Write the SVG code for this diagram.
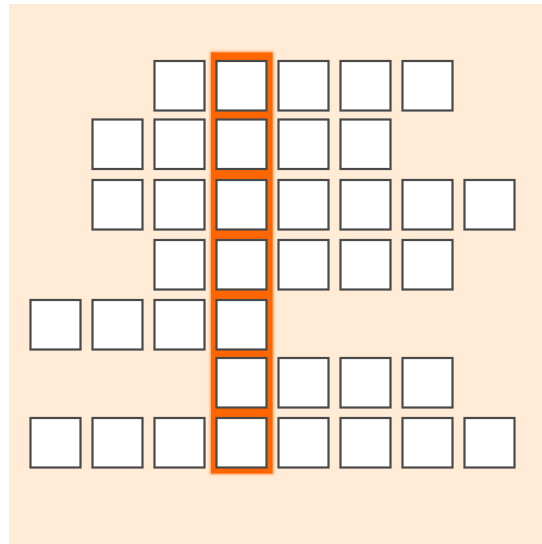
<svg xmlns="http://www.w3.org/2000/svg" width="542" height="544" viewBox="0 0 542 544">
<style>
.cell{fill:#ffffff;stroke:#4a4a4a;stroke-width:2.2}
.hl{fill:#ff6600}
</style>
<defs>
<filter id="glow" x="-20%" y="-5%" width="140%" height="110%">
<feGaussianBlur stdDeviation="1.2"/>
</filter>
</defs>
<rect x="9" y="4" width="533" height="540" fill="#ffebd6"/>
<g id="highlight">
<rect class="hl" x="210" y="51.5" width="63.5" height="423" filter="url(#glow)" opacity="0.6"/>
<rect class="hl" x="211" y="52.5" width="61.5" height="421"/>
</g>
<g id="row1">
<rect id="r1c2" class="cell" x="154.5" y="61" width="50" height="49.5"/>
<rect id="r1c3" class="cell" x="216.5" y="61" width="50" height="49.5"/>
<rect id="r1c4" class="cell" x="278.5" y="61" width="50" height="49.5"/>
<rect id="r1c5" class="cell" x="340.5" y="61" width="50" height="49.5"/>
<rect id="r1c6" class="cell" x="402.5" y="61" width="50" height="49.5"/>
</g>
<g id="row2">
<rect id="r2c1" class="cell" x="92.5" y="119.5" width="50" height="49.5"/>
<rect id="r2c2" class="cell" x="154.5" y="119.5" width="50" height="49.5"/>
<rect id="r2c3" class="cell" x="216.5" y="119.5" width="50" height="49.5"/>
<rect id="r2c4" class="cell" x="278.5" y="119.5" width="50" height="49.5"/>
<rect id="r2c5" class="cell" x="340.5" y="119.5" width="50" height="49.5"/>
</g>
<g id="row3">
<rect id="r3c1" class="cell" x="92.5" y="180" width="50" height="49.5"/>
<rect id="r3c2" class="cell" x="154.5" y="180" width="50" height="49.5"/>
<rect id="r3c3" class="cell" x="216.5" y="180" width="50" height="49.5"/>
<rect id="r3c4" class="cell" x="278.5" y="180" width="50" height="49.5"/>
<rect id="r3c5" class="cell" x="340.5" y="180" width="50" height="49.5"/>
<rect id="r3c6" class="cell" x="402.5" y="180" width="50" height="49.5"/>
<rect id="r3c7" class="cell" x="464.5" y="180" width="50" height="49.5"/>
</g>
<g id="row4">
<rect id="r4c2" class="cell" x="154.5" y="240" width="50" height="49.5"/>
<rect id="r4c3" class="cell" x="216.5" y="240" width="50" height="49.5"/>
<rect id="r4c4" class="cell" x="278.5" y="240" width="50" height="49.5"/>
<rect id="r4c5" class="cell" x="340.5" y="240" width="50" height="49.5"/>
<rect id="r4c6" class="cell" x="402.5" y="240" width="50" height="49.5"/>
</g>
<g id="row5">
<rect id="r5c0" class="cell" x="30.5" y="300" width="50" height="49.5"/>
<rect id="r5c1" class="cell" x="92.5" y="300" width="50" height="49.5"/>
<rect id="r5c2" class="cell" x="154.5" y="300" width="50" height="49.5"/>
<rect id="r5c3" class="cell" x="216.5" y="300" width="50" height="49.5"/>
</g>
<g id="row6">
<rect id="r6c3" class="cell" x="216.5" y="358" width="50" height="49.5"/>
<rect id="r6c4" class="cell" x="278.5" y="358" width="50" height="49.5"/>
<rect id="r6c5" class="cell" x="340.5" y="358" width="50" height="49.5"/>
<rect id="r6c6" class="cell" x="402.5" y="358" width="50" height="49.5"/>
</g>
<g id="row7">
<rect id="r7c0" class="cell" x="30.5" y="418" width="50" height="49.5"/>
<rect id="r7c1" class="cell" x="92.5" y="418" width="50" height="49.5"/>
<rect id="r7c2" class="cell" x="154.5" y="418" width="50" height="49.5"/>
<rect id="r7c3" class="cell" x="216.5" y="418" width="50" height="49.5"/>
<rect id="r7c4" class="cell" x="278.5" y="418" width="50" height="49.5"/>
<rect id="r7c5" class="cell" x="340.5" y="418" width="50" height="49.5"/>
<rect id="r7c6" class="cell" x="402.5" y="418" width="50" height="49.5"/>
<rect id="r7c7" class="cell" x="464.5" y="418" width="50" height="49.5"/>
</g>
<g id="connectors"/>
</svg>
